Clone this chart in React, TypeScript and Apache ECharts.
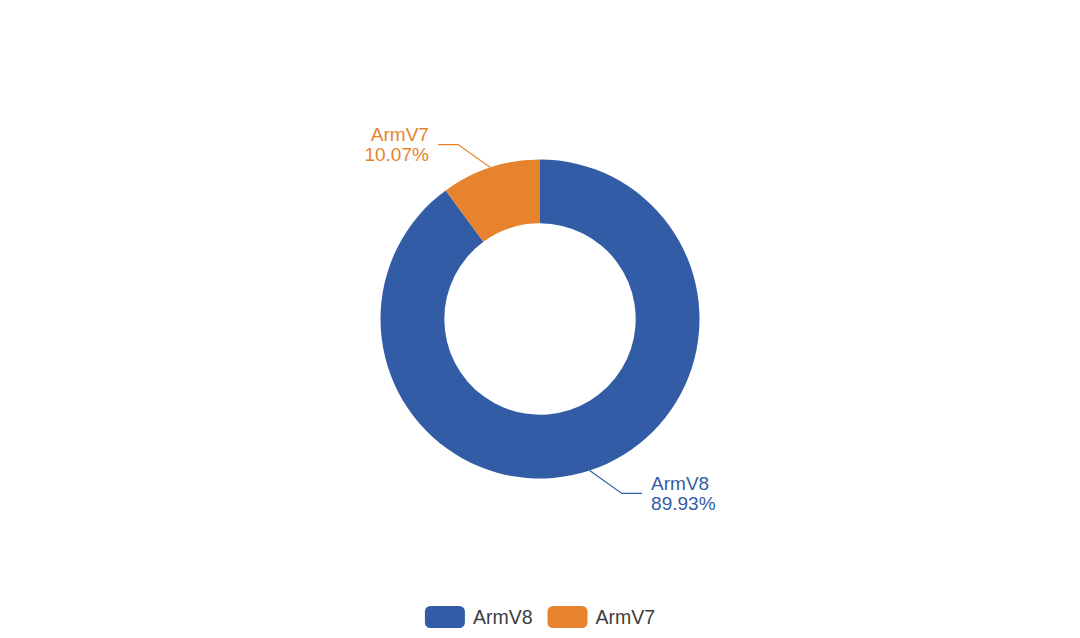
import React, { useEffect, useRef } from "react";
import * as echarts from "echarts";

const categories = ["ArmV8", "ArmV7"];
const values = [89.93, 10.07];
const colors = ["#325DA6", "#E8832D"];

export default function App() {
  const ref = useRef<HTMLDivElement>(null);
  useEffect(() => {
    if (!ref.current) return;
    const chart = echarts.init(ref.current, undefined, { renderer: "svg" });
    chart.setOption({
      animation: false,
      backgroundColor: "#ffffff",
      color: colors,
      textStyle: { fontFamily: "Liberation Sans" },
      legend: {
        bottom: 5,
        left: "center",
        itemWidth: 40,
        itemHeight: 22,
        itemGap: 15,
        data: categories,
        textStyle: {
          fontSize: 19.5,
          color: "#3d3d3d",
          fontFamily: "Liberation Sans",
          padding: [0, 0, 0, 3],
        },
      },
      series: [
        {
          type: "pie",
          center: ["50%", "50%"],
          radius: ["30%", "50%"],
          startAngle: 90,
          clockwise: true,
          avoidLabelOverlap: false,
          label: {
            show: true,
            position: "outside",
            formatter: (p: any) => `${p.name}\n${p.value.toFixed(2)}%`,
            color: "inherit",
            fontSize: 19,
            lineHeight: 20,
            fontFamily: "Liberation Sans",
            distanceToLabelLine: 9,
          },
          labelLine: { show: true, length: 24, length2: 45, lineStyle: { width: 1.2 } },
          labelLayout: (params: any) => {
            const pts = params.labelLinePoints;
            if (!pts || pts.length < 3) return {};
            const p0 = pts[0];
            const p1 = pts[1];
            const p2 = pts[2];
            const mid = [p1[0] + (p2[0] - p1[0]) * 0.55, p1[1]];
            return { labelLinePoints: [p0, mid, p2] };
          },
          data: categories.map((c, i) => ({ name: c, value: values[i] })),
        },
      ],
    });
    return () => chart.dispose();
  }, []);
  return <div ref={ref} style={{ width: 1080, height: 638, position: "absolute", left: 0, top: 0 }} />;
}
